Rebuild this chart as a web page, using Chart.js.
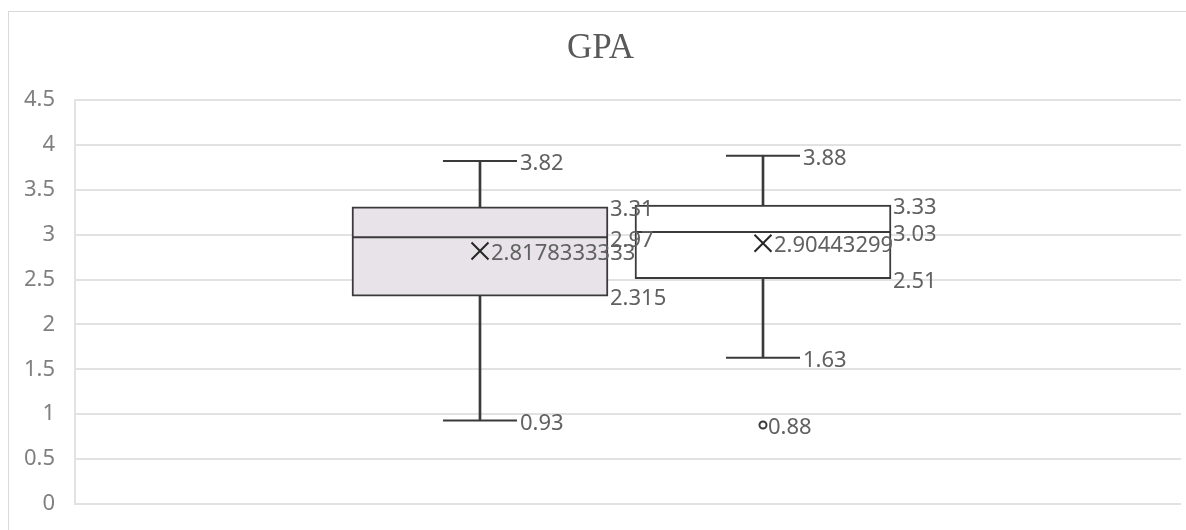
<!DOCTYPE html>
<html>
<head>
<meta charset="utf-8">
<script src="https://cdn.jsdelivr.net/npm/chart.js@4/dist/chart.umd.min.js"></script>
<style>
  html, body { margin: 0; padding: 0; background: #fff; width: 1186px; height: 530px; overflow: hidden; }
  #frame { position: absolute; left: 8px; top: 11px; width: 1400px; height: 800px; border: 1px solid #d9d9d9; }
  #c { position: absolute; left: 0; top: 0; }
</style>
</head>
<body>
<div id="frame"></div>
<canvas id="c" width="1186" height="530"></canvas>
<script>
// GPA box-and-whisker summary, one box per group
const chartTitle = 'GPA';
const seriesSlot = [1, 2];
const minValues = [0.93, 1.63];
const q1Values = [2.315, 2.51];
const medianValues = [2.97, 3.03];
const q3Values = [3.31, 3.33];
const maxValues = [3.82, 3.88];
const meanValues = [2.8178333333, 2.90443299];
const outlierValues = [[], [0.88]];
const yTickValues = [0, 0.5, 1, 1.5, 2, 2.5, 3, 3.5, 4, 4.5];
const boxFills = ['#e7e3e8', '#ffffff'];

const INK = '#3a3a3a';
const BOX_WIDTH = 256;
const CAP_HALF = 37;
const LABEL_FONT = '22px "Noto Sans", "Liberation Sans", sans-serif';

const boxData = seriesSlot.map((s, i) => ({ x: s, y: [q1Values[i], q3Values[i]] }));
const upperWhiskers = seriesSlot.map((s, i) => ({ x: s, y: [q3Values[i], maxValues[i]] }));
const lowerWhiskers = seriesSlot.map((s, i) => ({ x: s, y: [minValues[i], q1Values[i]] }));
const capPoints = seriesSlot.flatMap((s, i) => [{ x: s, y: maxValues[i] }, { x: s, y: minValues[i] }]);
const medianPoints = seriesSlot.map((s, i) => ({ x: s, y: medianValues[i] }));
const meanPoints = seriesSlot.map((s, i) => ({ x: s, y: meanValues[i] }));
const outlierPoints = seriesSlot.flatMap((s, i) => outlierValues[i].map(v => ({ x: s, y: v })));

// Writes the statistic values next to each box
const valueLabels = {
  id: 'valueLabels',
  afterDatasetsDraw(chart) {
    const { ctx, scales: { x, y } } = chart;
    ctx.save();
    ctx.font = LABEL_FONT;
    ctx.fillStyle = '#616161';
    ctx.textAlign = 'left';
    ctx.textBaseline = 'middle';
    const put = (v, px) => ctx.fillText(String(v), px, y.getPixelForValue(v) + 3);
    seriesSlot.forEach((s, i) => {
      const cx = x.getPixelForValue(s);
      put(maxValues[i], cx + CAP_HALF + 3);
      put(minValues[i], cx + CAP_HALF + 3);
      put(q3Values[i], cx + BOX_WIDTH / 2 + 2);
      put(medianValues[i], cx + BOX_WIDTH / 2 + 2);
      put(q1Values[i], cx + BOX_WIDTH / 2 + 2);
      put(meanValues[i], cx + 11);
      outlierValues[i].forEach(v => put(v, cx + 5));
    });
    ctx.restore();
  }
};

new Chart(document.getElementById('c'), {
  type: 'bar',
  data: {
    datasets: [
      { type: 'scatter', data: meanPoints, pointStyle: 'crossRot', pointRadius: 12,
        borderColor: '#262626', borderWidth: 2, order: 0 },
      { type: 'scatter', data: outlierPoints, pointStyle: 'circle', pointRadius: 3.5,
        borderColor: INK, backgroundColor: '#ffffff', borderWidth: 2, order: 0 },
      { type: 'scatter', data: medianPoints, pointStyle: 'line', pointRadius: BOX_WIDTH / 2,
        borderColor: INK, borderWidth: 2, order: 1 },
      { type: 'scatter', data: capPoints, pointStyle: 'line', pointRadius: CAP_HALF,
        borderColor: INK, borderWidth: 2, order: 1 },
      { type: 'bar', data: boxData, backgroundColor: boxFills, borderColor: INK, borderWidth: 2,
        borderSkipped: false, barThickness: BOX_WIDTH, grouped: false, order: 2 },
      { type: 'bar', data: upperWhiskers, backgroundColor: INK, borderWidth: 0,
        barThickness: 2, grouped: false, order: 3 },
      { type: 'bar', data: lowerWhiskers, backgroundColor: INK, borderWidth: 0,
        barThickness: 2, grouped: false, order: 3 }
    ]
  },
  options: {
    responsive: false,
    animation: false,
    events: [],
    devicePixelRatio: 1,
    layout: { autoPadding: false, padding: { left: 20, right: 5, top: 0, bottom: 0 } },
    plugins: {
      legend: { display: false },
      tooltip: { enabled: false },
      title: {
        display: true,
        text: chartTitle,
        color: '#595959',
        font: { family: '"Liberation Serif", "Times New Roman", serif', size: 35, weight: 'normal', lineHeight: 1.2 },
        padding: { top: 28, bottom: 30 }
      }
    },
    scales: {
      x: { type: 'linear', display: false, offset: false, min: -0.431, max: 3.477 },
      y: {
        min: 0,
        max: 4.5,
        afterBuildTicks: (scale) => { scale.ticks = yTickValues.map(v => ({ value: v })); },
        afterFit: (scale) => { scale.width = 55; },
        ticks: {
          color: '#808080',
          padding: 20,
          font: { family: '"Noto Sans", "Liberation Sans", sans-serif', size: 22, lineHeight: 0.55 },
          callback: (v) => String(v)
        },
        grid: { color: '#e2e2e2', lineWidth: 2, drawTicks: false },
        border: { display: true, color: '#e2e2e2', width: 2 }
      }
    }
  },
  plugins: [valueLabels]
});
</script>
</body>
</html>
